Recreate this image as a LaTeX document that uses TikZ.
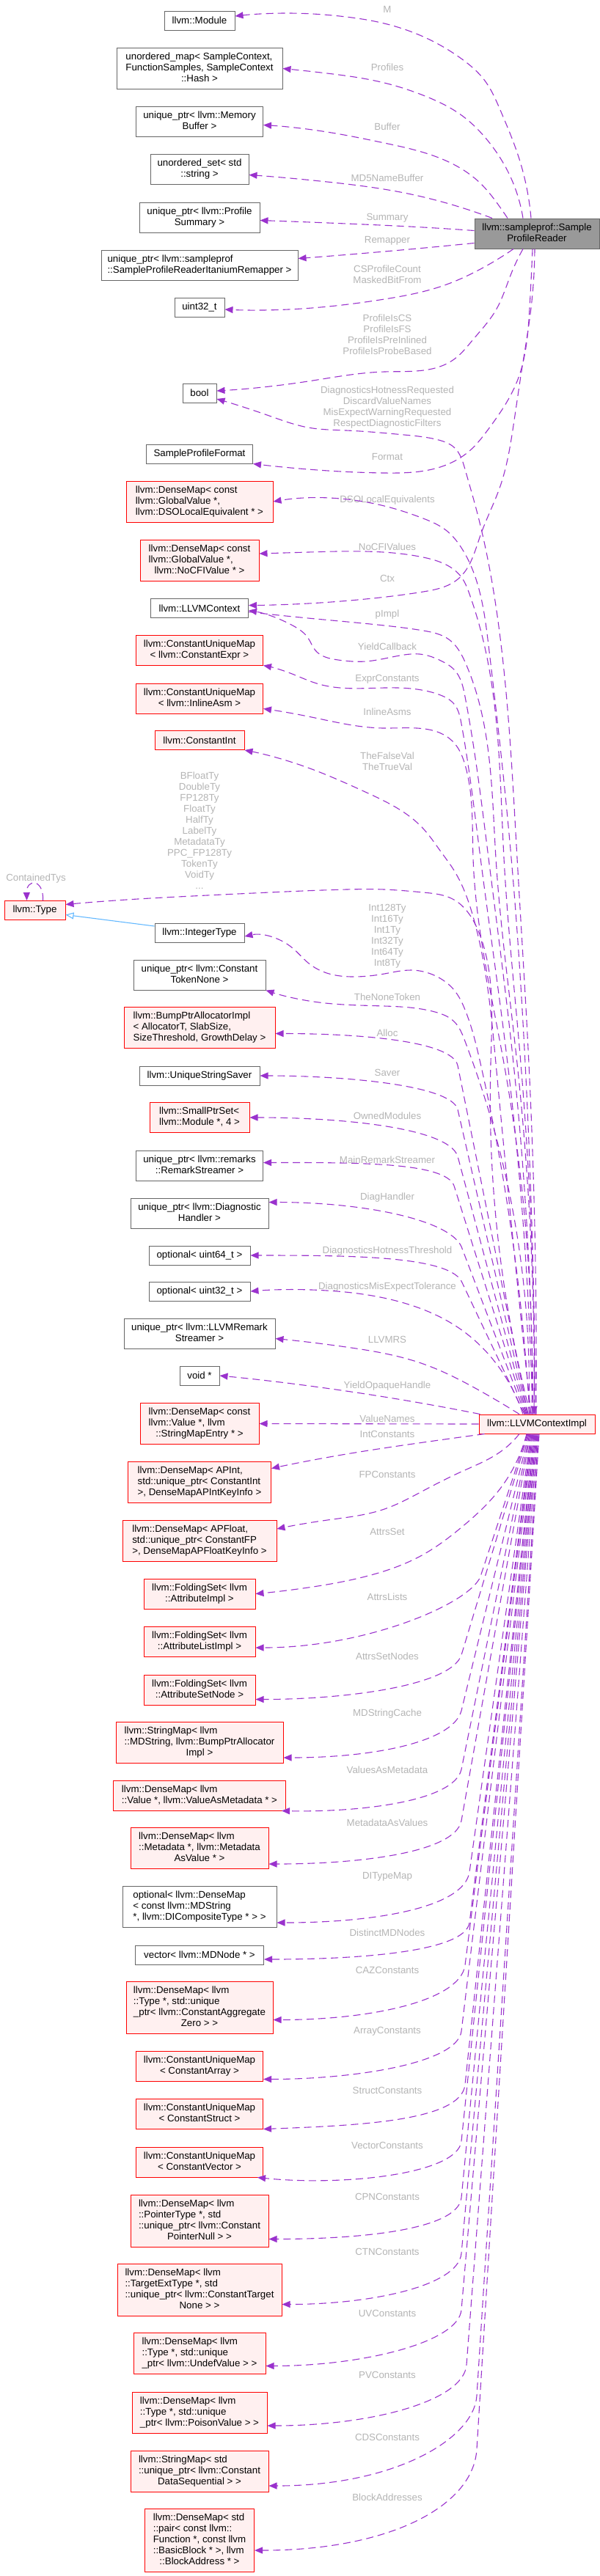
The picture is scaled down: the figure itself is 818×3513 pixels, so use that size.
\documentclass[tikz,border=0pt]{standalone}
\usepackage{fontspec}
\setmainfont{Liberation Sans}
\usetikzlibrary{arrows.meta,calc,hobby}

\definecolor{edgepurple}{HTML}{9A32CD}
\definecolor{inhblue}{HTML}{63B8FF}
\definecolor{boxgray}{HTML}{666666}
\definecolor{mainfill}{HTML}{999999}
\definecolor{truncfill}{HTML}{FFF0F0}
\definecolor{lblgray}{HTML}{B4B4B4}

% lines left-justified, last line centred
\newcommand{\boxtext}[2]{\begin{tabular}{@{}l@{}}#1\\\multicolumn{1}{@{}c@{}}{#2}\end{tabular}}

\begin{document}
\begin{tikzpicture}[x=1pt,y=-1pt,font=\fontsize{13.3}{15}\selectfont,
  cls/.style={draw=boxgray,line width=1pt,fill=white,inner xsep=5pt,inner ysep=1pt},
  trunc/.style={cls,draw=red,fill=truncfill},
  mainbox/.style={cls,fill=mainfill},
  l1/.style={minimum height=26pt},
  l2/.style={minimum height=41pt},
  l3/.style={minimum height=56pt},
  l4/.style={minimum height=71pt},
  l5/.style={minimum height=86pt},
  lbl/.style={text=lblgray,align=center,inner sep=0pt},
  usage/.style={edgepurple,line width=1.1pt,dash pattern=on 10pt off 6pt,-{Triangle[length=11pt,width=9pt]}},
  route/.style={usage,use Hobby shortcut},
  inh/.style={inhblue,line width=1.1pt,-{Triangle[open,length=11pt,width=9pt]}}]
\path[use as bounding box] (0,0) rectangle (818,3513);

% the two owners
\node[mainbox,l2,minimum width=170pt] (sprd) at (732,318.5) {\boxtext{llvm::sampleprof::Sample}{ProfileReader}};
\node[trunc,l1,minimum width=158pt] (ci) at (732,1942) {llvm::LLVMContextImpl};

% member types
\node[cls,l1,minimum width=96pt] (module) at (272,28) {llvm::Module};
\node[cls,l3,minimum width=226pt] (profmap) at (272,93.5) {\boxtext{unordered\_map< SampleContext,\\FunctionSamples, SampleContext}{::Hash >}};
\node[cls,l2,minimum width=173pt] (membuf) at (272,165.5) {\boxtext{unique\_ptr< llvm::Memory}{Buffer >}};
\node[cls,l2,minimum width=134pt] (md5set) at (272,230.5) {\boxtext{unordered\_set< std}{::string >}};
\node[cls,l2,minimum width=164pt] (summary) at (272,296.5) {\boxtext{unique\_ptr< llvm::Profile}{Summary >}};
\node[cls,l2,minimum width=268pt] (remapper) at (272,361.5) {\boxtext{unique\_ptr< llvm::sampleprof}{::SampleProfileReaderItaniumRemapper >}};
\node[cls,l1,minimum width=68pt] (uint) at (272,419) {uint32\_t};
\node[cls,l1,minimum width=46pt] (boolt) at (272,536) {bool};
\node[cls,l1,minimum width=145pt] (format) at (272,619) {SampleProfileFormat};
\node[trunc,l3,minimum width=200pt] (dsomap) at (272,684) {\boxtext{llvm::DenseMap< const\\llvm::GlobalValue *,}{llvm::DSOLocalEquivalent * >}};
\node[trunc,l3,minimum width=162pt] (nocfimap) at (272,764) {\boxtext{llvm::DenseMap< const\\llvm::GlobalValue *,}{llvm::NoCFIValue * >}};
\node[cls,l1,minimum width=133pt] (context) at (272,829.5) {llvm::LLVMContext};
\node[trunc,l2,minimum width=173pt] (exprmap) at (272,886.5) {\boxtext{llvm::ConstantUniqueMap}{< llvm::ConstantExpr >}};
\node[trunc,l2,minimum width=173pt] (asmmap) at (272,952.5) {\boxtext{llvm::ConstantUniqueMap}{< llvm::InlineAsm >}};
\node[trunc,l1,minimum width=122pt] (cint) at (272,1009.5) {llvm::ConstantInt};
\node[trunc,l1,minimum width=83pt] (type) at (47.5,1241.5) {llvm::Type};
\node[cls,l1,minimum width=122pt] (inttype) at (272,1272) {llvm::IntegerType};
\node[cls,l2,minimum width=180pt] (tokennone) at (272,1329.5) {\boxtext{unique\_ptr< llvm::Constant}{TokenNone >}};
\node[trunc,l3,minimum width=206pt] (bumpalloc) at (272,1401.5) {\boxtext{llvm::BumpPtrAllocatorImpl\\< AllocatorT, SlabSize,}{SizeThreshold, GrowthDelay >}};
\node[cls,l1,minimum width=164pt] (saver) at (272,1467) {llvm::UniqueStringSaver};
\node[trunc,l2,minimum width=136pt] (modset) at (272,1524) {\boxtext{llvm::SmallPtrSet<}{llvm::Module *, 4 >}};
\node[cls,l2,minimum width=173pt] (remarkstr) at (272,1589.5) {\boxtext{unique\_ptr< llvm::remarks}{::RemarkStreamer >}};
\node[cls,l2,minimum width=188pt] (diaghandler) at (272,1654.5) {\boxtext{unique\_ptr< llvm::Diagnostic}{Handler >}};
\node[cls,l1,minimum width=138pt] (opt64) at (272,1712) {optional< uint64\_t >};
\node[cls,l1,minimum width=138pt] (opt32) at (272,1761) {optional< uint32\_t >};
\node[cls,l2,minimum width=206pt] (llvmrs) at (272,1818.5) {\boxtext{unique\_ptr< llvm::LLVMRemark}{Streamer >}};
\node[cls,l1,minimum width=54pt] (voidp) at (272,1876) {void *};
\node[trunc,l3,minimum width=162pt] (namemap) at (272,1941.5) {\boxtext{llvm::DenseMap< const\\llvm::Value *, llvm}{::StringMapEntry * >}};
\node[trunc,l3,minimum width=195pt] (apintmap) at (272,2021) {\boxtext{llvm::DenseMap< APInt,\\std::unique\_ptr< ConstantInt}{>, DenseMapAPIntKeyInfo >}};
\node[trunc,l3,minimum width=210pt] (apfloatmap) at (272,2101) {\boxtext{llvm::DenseMap< APFloat,\\std::unique\_ptr< ConstantFP}{>, DenseMapAPFloatKeyInfo >}};
\node[trunc,l2,minimum width=152pt] (attrimpl) at (272,2173.5) {\boxtext{llvm::FoldingSet< llvm}{::AttributeImpl >}};
\node[trunc,l2,minimum width=152pt] (attrlist) at (272,2239) {\boxtext{llvm::FoldingSet< llvm}{::AttributeListImpl >}};
\node[trunc,l2,minimum width=152pt] (attrsetnode) at (272,2304.5) {\boxtext{llvm::FoldingSet< llvm}{::AttributeSetNode >}};
\node[trunc,l3,minimum width=228pt] (mdstrmap) at (272,2376) {\boxtext{llvm::StringMap< llvm\\::MDString, llvm::BumpPtrAllocator}{Impl >}};
\node[trunc,l2,minimum width=235pt] (vammap) at (272,2448.5) {\boxtext{llvm::DenseMap< llvm}{::Value *, llvm::ValueAsMetadata * >}};
\node[trunc,l3,minimum width=188pt] (mavmap) at (272,2520) {\boxtext{llvm::DenseMap< llvm\\::Metadata *, llvm::Metadata}{AsValue * >}};
\node[cls,l3,minimum width=210pt] (ditypemap) at (272,2600) {\boxtext{optional< llvm::DenseMap\\< const llvm::MDString}{*, llvm::DICompositeType * > >}};
\node[cls,l1,minimum width=175pt] (mdnodevec) at (272,2666) {vector< llvm::MDNode * >};
\node[trunc,l4,minimum width=200pt] (cazmap) at (272,2737.5) {\boxtext{llvm::DenseMap< llvm\\::Type *, std::unique\\\_ptr< llvm::ConstantAggregate}{Zero > >}};
\node[trunc,l2,minimum width=173pt] (arraymap) at (272,2817.5) {\boxtext{llvm::ConstantUniqueMap}{< ConstantArray >}};
\node[trunc,l2,minimum width=173pt] (structmap) at (272,2882.5) {\boxtext{llvm::ConstantUniqueMap}{< ConstantStruct >}};
\node[trunc,l2,minimum width=173pt] (vectormap) at (272,2948.5) {\boxtext{llvm::ConstantUniqueMap}{< ConstantVector >}};
\node[trunc,l4,minimum width=188pt] (cpnmap) at (272,3028.5) {\boxtext{llvm::DenseMap< llvm\\::PointerType *, std\\::unique\_ptr< llvm::Constant}{PointerNull > >}};
\node[trunc,l4,minimum width=224pt] (ctnmap) at (272,3122.5) {\boxtext{llvm::DenseMap< llvm\\::TargetExtType *, std\\::unique\_ptr< llvm::ConstantTarget}{None > >}};
\node[trunc,l3,minimum width=180pt] (uvmap) at (272,3209.5) {\boxtext{llvm::DenseMap< llvm\\::Type *, std::unique}{\_ptr< llvm::UndefValue > >}};
\node[trunc,l3,minimum width=184pt] (pvmap) at (272,3290) {\boxtext{llvm::DenseMap< llvm\\::Type *, std::unique}{\_ptr< llvm::PoisonValue > >}};
\node[trunc,l3,minimum width=188pt] (cdsmap) at (272,3370) {\boxtext{llvm::StringMap< std\\::unique\_ptr< llvm::Constant}{DataSequential > >}};
\node[trunc,l5,minimum width=149pt] (bamap) at (272,3464) {\boxtext{llvm::DenseMap< std\\::pair< const llvm::\\Function *, const llvm\\::BasicBlock * >, llvm}{::BlockAddress * >}};

% edge labels
\node[lbl] (tM) at (528,13) {M};
\node[lbl] (tProfiles) at (528,92) {Profiles};
\node[lbl] (tBuffer) at (528,173) {Buffer};
\node[lbl] (tMD5) at (528,243) {MD5NameBuffer};
\node[lbl] (tSummary) at (528,297) {Summary};
\node[lbl] (tRemapper) at (528,328) {Remapper};
\node[lbl] (tCSCount) at (528,374.5) {CSProfileCount\\MaskedBitFrom};
\node[lbl] (tProfIs) at (528,456.5) {ProfileIsCS\\ProfileIsFS\\ProfileIsPreInlined\\ProfileIsProbeBased};
\node[lbl] (tDiagFlags) at (528,555.5) {DiagnosticsHotnessRequested\\DiscardValueNames\\MisExpectWarningRequested\\RespectDiagnosticFilters};
\node[lbl] (tFormat) at (528,623) {Format};
\node[lbl] (tDSO) at (528,682) {DSOLocalEquivalents};
\node[lbl] (tNoCFI) at (528,746) {NoCFIValues};
\node[lbl] (tCtx) at (528,789) {Ctx};
\node[lbl] (tpImpl) at (528,838) {pImpl};
\node[lbl] (tYieldCB) at (528,882) {YieldCallback};
\node[lbl] (tExpr) at (528,926) {ExprConstants};
\node[lbl] (tAsm) at (528,971) {InlineAsms};
\node[lbl] (tTrueFalse) at (528,1038.5) {TheFalseVal\\TheTrueVal};
\node[lbl] (tTy) at (272,1133) {BFloatTy\\DoubleTy\\FP128Ty\\FloatTy\\HalfTy\\LabelTy\\MetadataTy\\PPC\_FP128Ty\\TokenTy\\VoidTy\\...};
\node[lbl] (tContained) at (49,1198) {ContainedTys};
\node[lbl] (tIntTy) at (528,1276.5) {Int128Ty\\Int16Ty\\Int1Ty\\Int32Ty\\Int64Ty\\Int8Ty};
\node[lbl] (tNone) at (528,1360) {TheNoneToken};
\node[lbl] (tAlloc) at (528,1409) {Alloc};
\node[lbl] (tSaver) at (528,1463) {Saver};
\node[lbl] (tOwned) at (528,1522) {OwnedModules};
\node[lbl] (tMainRS) at (528,1582) {MainRemarkStreamer};
\node[lbl] (tDiagH) at (528,1633) {DiagHandler};
\node[lbl] (tHotTh) at (528,1706) {DiagnosticsHotnessThreshold};
\node[lbl] (tMisTol) at (528,1755) {DiagnosticsMisExpectTolerance};
\node[lbl] (tLLVMRS) at (528,1827) {LLVMRS};
\node[lbl] (tYieldOH) at (528,1890) {YieldOpaqueHandle};
\node[lbl] (tValNames) at (528,1935) {ValueNames};
\node[lbl] (tIntC) at (528,1956) {IntConstants};
\node[lbl] (tFPC) at (528,2011) {FPConstants};
\node[lbl] (tAttrsSet) at (528,2089) {AttrsSet};
\node[lbl] (tAttrsLists) at (528,2178) {AttrsLists};
\node[lbl] (tAttrsSetNodes) at (528,2259) {AttrsSetNodes};
\node[lbl] (tMDStr) at (528,2337) {MDStringCache};
\node[lbl] (tVAM) at (528,2414) {ValuesAsMetadata};
\node[lbl] (tMAV) at (528,2486) {MetadataAsValues};
\node[lbl] (tDIType) at (528,2559) {DITypeMap};
\node[lbl] (tDistinct) at (528,2636) {DistinctMDNodes};
\node[lbl] (tCAZ) at (528,2687) {CAZConstants};
\node[lbl] (tArray) at (528,2770) {ArrayConstants};
\node[lbl] (tStruct) at (528,2851) {StructConstants};
\node[lbl] (tVector) at (528,2926) {VectorConstants};
\node[lbl] (tCPN) at (528,2996) {CPNConstants};
\node[lbl] (tCTN) at (528,3071) {CTNConstants};
\node[lbl] (tUV) at (528,3155) {UVConstants};
\node[lbl] (tPV) at (528,3239) {PVConstants};
\node[lbl] (tCDS) at (528,3324) {CDSConstants};
\node[lbl] (tBA) at (528,3406) {BlockAddresses};

% SampleProfileReader members
\draw[route] ($(sprd.north)+(-8,0)$) .. (708,217) .. (682,150) .. (661,110) .. (629,80) .. (577,50) .. (524,32) .. (472,23) .. (393,18) .. ($(module.east)+(0,-6)$);
\draw[route] ($(sprd.north)+(-19,0)$) .. (692,233) .. (666,193) .. (629,157) .. (577,130) .. (524,113) .. (446,100) .. (profmap.east);
\draw[route] ($(sprd.north)+(-40,0)$) .. (682,283) .. (655,250) .. (603,217) .. (524,195) .. (446,180) .. ($(membuf.east)+(0,5)$);
\draw[route] ($(sprd.north)+(-61,0)$) .. (629,283) .. (551,263) .. (446,248) .. ($(md5set.east)+(0,8)$);
\draw[route] ($(sprd.west)+(0,-4)$) .. (577,310) .. (472,305) .. ($(summary.east)+(0,4)$);
\draw[route] ($(sprd.west)+(0,13)$) .. (524,343) .. ($(remapper.east)+(0,-9)$);
\draw[route] ($(sprd.south)+(-32,0)$) .. (655,367) .. (603,390) .. (524,408) .. (393,422) .. ($(uint.east)+(0,3)$);
\draw[route] ($(sprd.south)+(-19,0)$) .. (697,373) .. (676,423) .. (645,463) .. (619,490) .. (524,507) .. (420,520) .. ($(boolt.east)+(0,-3)$);
\draw[route] ($(sprd.south)+(-6,0)$) .. (722,420) .. (705,520) .. (666,585) .. (640,615) .. (600,637) .. (524,645) .. (420,640) .. (format.south east);
\draw[route] ($(sprd.south)+(-3,0)$) .. (724,420) .. (712,500) .. (700,580) .. (682,663) .. (655,730) .. (624,790) .. (577,807) .. (498,817) .. (420,823) .. ($(context.east)+(0,-4)$);

% LLVMContextImpl members above it
\draw[route] ($(ci.north)+(-1,0)$) .. (721,1450) .. (705,1170) .. (682,870) .. (650,697) .. (634,640) .. (619,610) .. (598,600) .. (551,593) .. (472,587) .. (420,583) .. (367,567) .. ($(boolt.east)+(0,8)$);
\draw[route] ($(ci.north)+(-2,0)$) .. (716,1450) .. (697,1170) .. (666,880) .. (629,747) .. (608,723) .. (577,707) .. (524,690) .. (dsomap.east);
\draw[route] ($(ci.north)+(-3,0)$) .. (710,1450) .. (687,1170) .. (658,870) .. (640,810) .. (629,787) .. (608,770) .. (577,760) .. (498,752) .. (420,753) .. ($(nocfimap.east)+(0,-9)$);
\draw[route] ($(context.east)+(0,5)$) .. (420,843) .. (524,853) .. (577,860) .. (612,872) .. (635,905) .. (676,1170) .. (705,1450) .. ($(ci.north)+(-4,0)$);
\draw[route] ($(ci.north)+(-5,0)$) .. (700,1450) .. (666,1170) .. (634,950) .. (619,913) .. (603,902) .. (572,892) .. (551,893) .. (498,902) .. (461,900) .. (430,887) .. (420,870) .. (399,853) .. ($(context.east)+(0,3)$);
\draw[route] ($(ci.north)+(-6,0)$) .. (692,1450) .. (655,1170) .. (629,987) .. (619,960) .. (598,947) .. (524,938) .. (435,933) .. (393,917) .. (exprmap.south east);
\draw[route] ($(ci.north)+(-7,0)$) .. (687,1450) .. (645,1170) .. (634,1043) .. (619,1013) .. (524,993) .. (420,977) .. ($(asmmap.east)+(0,14)$);
\draw[route] ($(ci.north)+(-8,0)$) .. (676,1450) .. (645,1250) .. (619,1187) .. (600,1160) .. (577,1130) .. (498,1080) .. (420,1047) .. (cint.south east);
\draw[route] ($(ci.north)+(-9,0)$) .. (669,1450) .. (655,1277) .. (640,1247) .. (619,1227) .. (577,1217) .. (524,1213) .. (472,1213) .. (367,1217) .. (262,1222) .. (157,1228) .. ($(type.east)+(0,-8)$);
\draw[route] ($(ci.north)+(-10,0)$) .. (655,1450) .. (634,1377) .. (619,1350) .. (598,1333) .. (561,1323) .. (524,1328) .. (482,1332) .. (440,1325) .. (420,1313) .. (399,1293) .. ($(inttype.east)+(0,5)$);
\draw[route] ($(ci.north)+(-11,0)$) .. (645,1450) .. (634,1420) .. (619,1393) .. (593,1380) .. (524,1372) .. (435,1367) .. (tokennone.south east);
\draw[usage] ($(ci.north)+(-12,0)$) -- (624,1453) .. controls ($(624,1453)!-35pt!(ci.north)$) and ($(bumpalloc.east)+(110,8)$) .. ($(bumpalloc.east)+(0,8)$);
\draw[usage] ($(ci.north)+(-13,0)$) -- (624,1513) .. controls ($(624,1513)!-35pt!(ci.north)$) and ($(saver.east)+(110,0)$) .. (saver.east);
\draw[usage] ($(ci.north)+(-14,0)$) -- (624,1577) .. controls ($(624,1577)!-40pt!(ci.north)$) and ($(modset.east)+(130,0)$) .. (modset.east);
\draw[usage] ($(ci.north)+(-15,0)$) -- (619,1617) .. controls ($(619,1617)!-35pt!(ci.north)$) and ($(remarkstr.east)+(120,-4)$) .. ($(remarkstr.east)+(0,-4)$);
\draw[usage] ($(ci.north)+(-16,0)$) -- (629,1700) .. controls ($(629,1700)!-40pt!(ci.north)$) and ($(diaghandler.north east)+(130,6)$) .. ($(diaghandler.north east)+(0,6)$);
\draw[usage] ($(ci.north)+(-17,0)$) -- (629,1747) .. controls ($(629,1747)!-40pt!(ci.north)$) and ($(opt64.east)+(130,0)$) .. (opt64.east);
\draw[route] ($(ci.north)+(-19,0)$) .. (682,1867) .. (624,1810) .. (551,1777) .. (446,1760) .. (opt32.east);
\draw[route] ($(ci.north)+(-24,0)$) .. (655,1897) .. (577,1860) .. (472,1837) .. ($(llvmrs.east)+(0,7)$);
\draw[route] ($(ci.north west)+(2,0)$) .. (472,1897) .. (voidp.east);
\draw[usage] (ci.west) -- (namemap.east);

% LLVMContextImpl members below it
\draw[route] ($(ci.south west)+(8,0)$) .. (577,1967) .. (472,1983) .. ($(apintmap.north east)+(0,10)$);
\draw[route] ($(ci.south)+(-24,0)$) .. (682,1980) .. (629,2007) .. (577,2033) .. (524,2058) .. (446,2073) .. ($(apfloatmap.east)+(0,-16)$);
\draw[route] ($(ci.south)+(-14,0)$) .. (682,2030) .. (629,2083) .. (577,2120) .. (498,2150) .. (420,2165) .. (attrimpl.east);
\draw[usage] ($(ci.south)+(-13,0)$) -- (655,2150) .. controls ($(655,2150)!-40pt!(ci.south)$) and ($(attrlist.east)+(150,8)$) .. ($(attrlist.east)+(0,8)$);
\draw[usage] ($(ci.south)+(-12,0)$) -- (629,2257) .. controls ($(629,2257)!-45pt!(ci.south)$) and ($(attrsetnode.east)+(120,13)$) .. ($(attrsetnode.east)+(0,13)$);
\draw[usage] ($(ci.south)+(-11,0)$) -- (629,2333) .. controls ($(629,2333)!-45pt!(ci.south)$) and ($(mdstrmap.east)+(120,21)$) .. ($(mdstrmap.east)+(0,21)$);
\draw[usage] ($(ci.south)+(-10,0)$) -- (629,2413) .. controls ($(629,2413)!-45pt!(ci.south)$) and ($(vammap.south east)+(100,2)$) .. ($(vammap.south east)+(-6,0)$);
\draw[usage] ($(ci.south)+(-9,0)$) -- (629,2483) .. controls ($(629,2483)!-45pt!(ci.south)$) and ($(mavmap.east)+(120,22)$) .. ($(mavmap.east)+(0,22)$);
\draw[usage] ($(ci.south)+(-8,0)$) -- (640,2553) .. controls ($(640,2553)!-50pt!(ci.south)$) and ($(ditypemap.east)+(130,22)$) .. ($(ditypemap.east)+(0,22)$);
\draw[usage] ($(ci.south)+(-7,0)$) -- (640,2622) .. controls ($(640,2622)!-40pt!(ci.south)$) and ($(mdnodevec.east)+(130,6)$) .. ($(mdnodevec.east)+(0,6)$);
\draw[usage] ($(ci.south)+(-6,0)$) -- (634,2680) .. controls ($(634,2680)!-50pt!(ci.south)$) and ($(cazmap.east)+(130,17)$) .. ($(cazmap.east)+(0,17)$);
\draw[usage] ($(ci.south)+(-5,0)$) -- (629,2770) .. controls ($(629,2770)!-45pt!(ci.south)$) and ($(arraymap.south east)+(120,-3)$) .. ($(arraymap.south east)+(0,-3)$);
\draw[usage] ($(ci.south)+(-4,0)$) -- (634,2843) .. controls ($(634,2843)!-50pt!(ci.south)$) and ($(structmap.south east)+(130,-5)$) .. (structmap.south east);
\draw[usage] ($(ci.south)+(-3,0)$) -- (629,2920) .. controls ($(629,2920)!-45pt!(ci.south)$) and ($(vectormap.south east)+(110,12)$) .. ($(vectormap.south east)+(-8,0)$);
\draw[usage] ($(ci.south)+(-2,0)$) -- (629,2997) .. controls ($(629,2997)!-45pt!(ci.south)$) and ($(cpnmap.east)+(120,25)$) .. ($(cpnmap.east)+(0,25)$);
\draw[usage] ($(ci.south)+(-1,0)$) -- (629,3073) .. controls ($(629,3073)!-45pt!(ci.south)$) and ($(ctnmap.east)+(120,20)$) .. ($(ctnmap.east)+(0,20)$);
\draw[usage] (ci.south) -- (629,3150) .. controls ($(629,3150)!-45pt!(ci.south)$) and ($(uvmap.east)+(130,17)$) .. ($(uvmap.east)+(0,17)$);
\draw[usage] ($(ci.south)+(1,0)$) -- (636,3225) .. controls ($(636,3225)!-50pt!(ci.south)$) and ($(pvmap.east)+(140,18)$) .. ($(pvmap.east)+(0,18)$);
\draw[usage] ($(ci.south)+(2,0)$) -- (650,3267) .. controls ($(650,3267)!-60pt!(ci.south)$) and ($(cdsmap.east)+(170,20)$) .. ($(cdsmap.east)+(0,20)$);
\draw[usage] ($(ci.south)+(3,0)$) -- (650,3340) .. controls ($(650,3340)!-80pt!(ci.south)$) and ($(bamap.east)+(180,14)$) .. ($(bamap.east)+(0,14)$);

% Type: self use and subclass
\draw[usage] ($(type.north)+(11,0)$) .. controls (60,1198) and (36,1198) .. ($(type.north)+(-11,0)$);
\draw[inh] ($(inttype.west)+(0,-9)$) -- ($(type.east)+(0,6)$);
\end{tikzpicture}
\end{document}
